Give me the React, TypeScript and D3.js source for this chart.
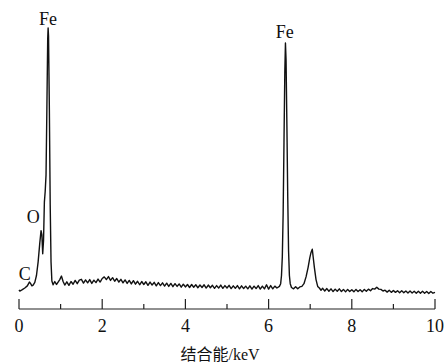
import * as d3 from "d3";

// EDS spectrum: [energy keV, intensity a.u.]
const spectrum: [number, number][] = [
  [0.0, 3.7], [0.02, 3.3], [0.08, 3.8], [0.14, 4.4], [0.2, 5.2], [0.25, 6.6], [0.28, 6.0],
  [0.31, 5.2], [0.34, 5.5], [0.38, 6.5], [0.42, 9], [0.46, 14], [0.5, 21], [0.53, 25.5],
  [0.55, 24], [0.57, 17], [0.59, 22], [0.61, 36], [0.63, 40], [0.65, 46], [0.67, 70],
  [0.69, 96], [0.7, 100], [0.71, 97], [0.73, 70], [0.75, 35], [0.77, 14], [0.79, 7],
  [0.82, 5.6], [0.86, 6.8], [0.9, 5.7], [0.94, 6.6], [0.98, 7.5], [1.02, 8.8], [1.06, 6.8],
  [1.1, 5.5], [1.15, 6.7], [1.2, 5.4], [1.25, 6.8], [1.3, 5.8], [1.35, 7.2], [1.4, 6.0],
  [1.45, 7.3], [1.5, 7.6], [1.55, 6.2], [1.6, 7.4], [1.65, 6.3], [1.7, 7.5], [1.75, 6.1],
  [1.8, 7.3], [1.85, 6.4], [1.9, 7.7], [1.95, 6.6], [2.0, 7.9], [2.05, 8.5], [2.1, 7.5],
  [2.15, 8.6], [2.2, 7.2], [2.25, 8.2], [2.3, 6.9], [2.35, 7.9], [2.4, 6.6], [2.45, 7.6],
  [2.5, 6.3], [2.55, 7.4], [2.6, 6.1], [2.65, 7.2], [2.7, 5.9], [2.75, 7.1], [2.8, 5.8],
  [2.85, 6.9], [2.9, 5.6], [2.95, 6.8], [3.0, 5.7], [3.05, 6.7], [3.1, 5.4], [3.15, 6.6],
  [3.2, 5.5], [3.25, 6.5], [3.3, 5.2], [3.35, 6.4], [3.4, 5.3], [3.45, 6.3], [3.5, 5.1],
  [3.55, 6.2], [3.6, 5.0], [3.65, 6.1], [3.7, 4.9], [3.75, 6.0], [3.8, 5.0], [3.85, 5.9],
  [3.9, 4.7], [3.95, 5.8], [4.0, 4.8], [4.05, 5.7], [4.1, 4.6], [4.15, 5.7], [4.2, 4.7],
  [4.25, 5.6], [4.3, 4.5], [4.35, 5.5], [4.4, 4.6], [4.45, 5.6], [4.5, 4.4], [4.55, 5.5],
  [4.6, 4.5], [4.65, 5.4], [4.7, 4.3], [4.75, 5.3], [4.8, 4.4], [4.85, 5.5], [4.9, 4.3],
  [4.95, 5.3], [5.0, 4.4], [5.05, 5.4], [5.1, 4.2], [5.15, 5.2], [5.2, 4.3], [5.25, 5.3],
  [5.3, 4.1], [5.35, 5.2], [5.4, 4.2], [5.45, 5.1], [5.5, 4.1], [5.55, 5.2], [5.6, 4.0],
  [5.65, 5.1], [5.7, 4.2], [5.75, 5.3], [5.8, 4.0], [5.85, 5.1], [5.9, 4.1], [5.95, 5.6],
  [6.0, 4.0], [6.05, 5.3], [6.1, 4.1], [6.15, 5.1], [6.2, 4.4], [6.26, 5.0], [6.29, 6],
  [6.31, 9], [6.33, 16], [6.35, 32], [6.37, 58], [6.39, 84], [6.405, 94.5], [6.42, 88],
  [6.44, 64], [6.46, 38], [6.48, 18], [6.5, 9], [6.52, 6], [6.55, 4.6], [6.6, 4.1],
  [6.65, 4.9], [6.7, 4.1], [6.75, 4.8], [6.8, 5.0], [6.85, 6], [6.9, 8.5], [6.95, 12],
  [6.99, 15.5], [7.02, 17.5], [7.05, 18.7], [7.07, 16], [7.1, 12], [7.14, 7.5], [7.18, 5],
  [7.22, 4.4], [7.26, 3.6], [7.3, 4.3], [7.35, 3.3], [7.4, 4.2], [7.45, 3.2], [7.5, 4.1],
  [7.55, 3.1], [7.6, 4.0], [7.65, 3.2], [7.7, 4.1], [7.75, 3.1], [7.8, 3.9], [7.85, 3.0],
  [7.9, 3.9], [7.95, 3.1], [8.0, 3.8], [8.05, 3.0], [8.1, 3.9], [8.15, 3.1], [8.2, 3.8],
  [8.25, 3.0], [8.3, 3.9], [8.35, 3.2], [8.4, 4.0], [8.45, 3.4], [8.5, 4.2], [8.55, 4.0],
  [8.6, 4.7], [8.65, 4.0], [8.7, 3.9], [8.75, 3.3], [8.8, 3.6], [8.85, 2.9], [8.9, 3.6],
  [8.95, 2.8], [9.0, 3.5], [9.05, 2.8], [9.1, 3.4], [9.15, 2.7], [9.2, 3.4], [9.25, 2.7],
  [9.3, 3.3], [9.35, 2.6], [9.4, 3.3], [9.45, 2.6], [9.5, 3.2], [9.55, 2.5], [9.6, 3.2],
  [9.65, 2.5], [9.7, 3.2], [9.75, 2.5], [9.8, 3.1], [9.85, 2.4], [9.9, 3.1], [9.95, 2.5],
  [10.0, 2.8],
];

// element labels, anchored in data coordinates
const peakNames = ["C", "O", "Fe", "Fe"];
const peakEnergy = [0.14, 0.34, 0.7, 6.39];
const peakLevel = [7.4, 28.3, 101.1, 96.3];

const xTicks = [0, 2, 4, 6, 8, 10];
const xMinorTicks = [1, 3, 5, 7, 9];
const xTitle = "结合能/keV";

const W = 445;
const H = 364;
const serif = "'Liberation Serif', 'Times New Roman', 'Noto Sans CJK SC', serif";

export default function App() {
  const x = d3.scaleLinear().domain([0, 10]).range([19, 435]);
  const y = d3.scaleLinear().domain([0, 100]).range([300, 28]);
  const axisY = 309;

  const line = d3
    .line<[number, number]>()
    .x((d) => x(d[0]))
    .y((d) => y(d[1]));

  return (
    <svg
      width={W}
      height={H}
      style={{ position: "absolute", left: 0, top: 0, background: "#fff" }}
      fontFamily={serif}
    >
      <path d={line(spectrum) || ""} fill="none" stroke="#111" strokeWidth={1.4} strokeLinejoin="round" />

      {peakNames.map((n, i) => (
        <text key={i} x={x(peakEnergy[i])} y={y(peakLevel[i])} textAnchor="middle" fontSize={18} fill="#111">
          {n}
        </text>
      ))}

      <line x1={x(0)} x2={x(10)} y1={axisY} y2={axisY} stroke="#222" strokeWidth={1.2} />
      {xTicks.map((t) => (
        <g key={t}>
          <line x1={x(t)} x2={x(t)} y1={axisY} y2={axisY - 10} stroke="#222" strokeWidth={1.2} />
          <text x={x(t)} y={332} textAnchor="middle" fontSize={18} fill="#111">
            {t}
          </text>
        </g>
      ))}
      {xMinorTicks.map((t) => (
        <line key={t} x1={x(t)} x2={x(t)} y1={axisY} y2={axisY - 5} stroke="#222" strokeWidth={1.2} />
      ))}
      <text x={220} y={360} textAnchor="middle" fontSize={16} fill="#111">
        {xTitle}
      </text>
    </svg>
  );
}
